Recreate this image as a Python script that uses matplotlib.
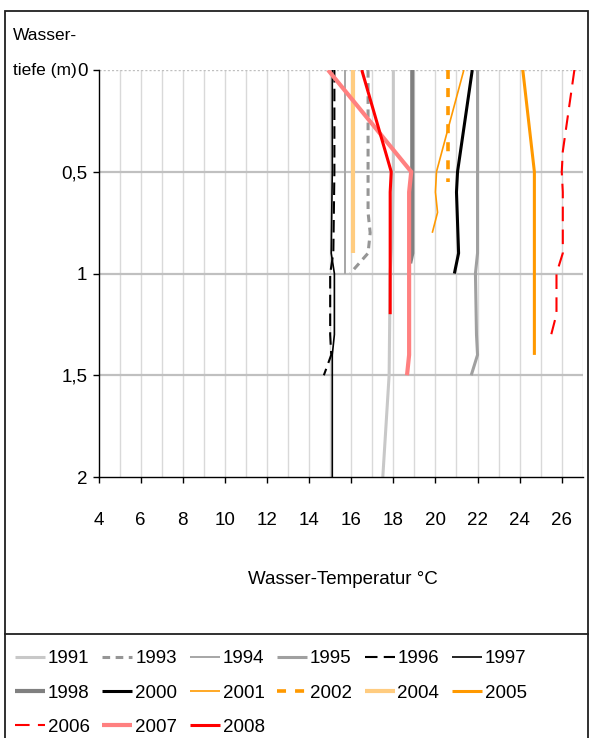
import matplotlib.pyplot as plt
from matplotlib.lines import Line2D
from matplotlib.patches import Rectangle

plt.rcParams['font.family'] = ['Liberation Sans Narrow', 'Liberation Sans', 'DejaVu Sans']

# Temperaturprofile (Tiefe in m, Temperatur in °C)
d_1991 = [0, 0.5, 0.8, 1.0, 1.5, 2.0]
t_1991 = [18.0, 18.0, 17.95, 17.85, 17.8, 17.5]
d_1993 = [0, 0.5, 0.7, 0.8, 0.9, 1.0]
t_1993 = [16.8, 16.8, 16.8, 16.9, 16.8, 15.95]
d_1994 = [0, 0.5, 1.0]
t_1994 = [15.7, 15.7, 15.7]
d_1995 = [0, 0.5, 0.9, 1.0, 1.3, 1.4, 1.5]
t_1995 = [22.0, 22.0, 22.0, 21.9, 21.95, 22.0, 21.7]
d_1996 = [0, 0.5, 0.9, 1.0, 1.3, 1.4, 1.5]
t_1996 = [15.2, 15.2, 15.15, 15.0, 15.0, 15.05, 14.7]
d_1997 = [0, 0.5, 0.9, 1.0, 1.3, 1.4, 1.5, 2.0]
t_1997 = [15.1, 15.1, 15.05, 15.2, 15.2, 15.1, 15.1, 15.1]
d_1998 = [0, 0.5, 0.9, 0.95]
t_1998 = [18.9, 18.9, 18.9, 18.8]
d_2000 = [0, 0.25, 0.5, 0.6, 0.9, 1.0]
t_2000 = [21.75, 21.4, 21.05, 21.0, 21.1, 20.9]
d_2001 = [0, 0.5, 0.6, 0.7, 0.8]
t_2001 = [21.35, 20.05, 20.0, 20.1, 19.85]
d_2002 = [0, 0.5, 0.55]
t_2002 = [20.6, 20.6, 20.6]
d_2004 = [0, 0.5, 0.9]
t_2004 = [16.1, 16.1, 16.1]
d_2005 = [0, 0.5, 1.0, 1.4]
t_2005 = [24.15, 24.7, 24.7, 24.7]
d_2006 = [0, 0.4, 0.5, 0.6, 0.9, 1.0, 1.2, 1.3]
t_2006 = [26.6, 26.05, 26.0, 26.05, 26.05, 25.75, 25.75, 25.5]
d_2007 = [0, 0.5, 0.6, 1.4, 1.5]
t_2007 = [14.9, 18.85, 18.75, 18.75, 18.65]
d_2008 = [0, 0.5, 0.6, 1.2]
t_2008 = [16.5, 17.9, 17.85, 17.85]

years = ['1991', '1993', '1994', '1995', '1996', '1997', '1998', '2000',
         '2001', '2002', '2004', '2005', '2006', '2007', '2008']
depths = [d_1991, d_1993, d_1994, d_1995, d_1996, d_1997, d_1998, d_2000,
          d_2001, d_2002, d_2004, d_2005, d_2006, d_2007, d_2008]
temps = [t_1991, t_1993, t_1994, t_1995, t_1996, t_1997, t_1998, t_2000,
         t_2001, t_2002, t_2004, t_2005, t_2006, t_2007, t_2008]

# Linienstile: Farbe, Breite, Strichmuster
styles = {
    '1991': dict(color='#C8C8C8', lw=2.2),
    '1993': dict(color='#969696', lw=2.2, dashes=(2.5, 1.8)),
    '1994': dict(color='#A6A6A6', lw=1.4),
    '1995': dict(color='#A0A0A0', lw=2.2),
    '1996': dict(color='black', lw=1.5, dashes=(6, 3)),
    '1997': dict(color='black', lw=1.2),
    '1998': dict(color='#808080', lw=3.0),
    '2000': dict(color='black', lw=2.2),
    '2001': dict(color='#FF9900', lw=1.2),
    '2002': dict(color='#FF9900', lw=2.6, dashes=(2.5, 2.5)),
    '2004': dict(color='#FFCC80', lw=3.0),
    '2005': dict(color='#FF9900', lw=2.2),
    '2006': dict(color='#FF0000', lw=1.5, dashes=(7, 4)),
    '2007': dict(color='#FF8080', lw=3.0),
    '2008': dict(color='#FF0000', lw=2.2),
}

fs = 13.5
W, H = 590, 738
fig = plt.figure(figsize=(W / 100, H / 100), dpi=100)
ax = fig.add_axes([98.6 / W, 1 - 477 / H, (582.8 - 98.6) / W, 407 / H])

# Gitter
for t in range(5, 28):
    ax.axvline(t, color='#D9D9D9', lw=1.0, zorder=0)
for d in [0.5, 1.0, 1.5]:
    ax.axhline(d, color='#C0C0C0', lw=1.6, zorder=0)
ax.axhline(0, color='#BFBFBF', lw=1.0, ls=(0, (1.5, 1.5)), zorder=0)

handles = {}
for y, d, t in zip(years, depths, temps):
    st = styles[y]
    kw = dict(color=st['color'], lw=st['lw'], solid_capstyle='butt',
              dash_capstyle='butt', solid_joinstyle='round')
    line, = ax.plot(t, d, **kw)
    if 'dashes' in st:
        line.set_dashes(st['dashes'])
    handles[y] = line

ax.set_xlim(4, 27)
ax.set_ylim(2, 0)
ax.set_xticks(range(4, 27, 2))
ax.set_yticks([0, 0.5, 1, 1.5, 2])
ax.set_yticklabels(['0', '0,5', '1', '1,5', '2'])
ax.tick_params(axis='x', direction='out', length=4, width=1, pad=21, labelsize=fs)
ax.tick_params(axis='y', direction='out', length=4, width=1, pad=4, labelsize=fs)
for s in ['top', 'right']:
    ax.spines[s].set_visible(False)
ax.spines['left'].set_linewidth(1.0)
ax.spines['bottom'].set_linewidth(1.0)

fig.text(343 / W, 1 - 580 / H, 'Wasser-Temperatur °C', ha='center', va='center', fontsize=fs)
fig.text(13 / W, 1 - 35 / H, 'Wasser-', ha='left', va='center', fontsize=12.5)
fig.text(13 / W, 1 - 70 / H, 'tiefe (m)', ha='left', va='center', fontsize=12.5)

# Rahmen und Trennlinie zur Legende
fig.add_artist(Rectangle((5 / W, -0.01), (588 - 5) / W, 0.01 + 1 - 11 / H,
                         transform=fig.transFigure, fill=False, ec='#202020', lw=1.3))
fig.add_artist(Line2D([5 / W, 588 / W], [1 - 634 / H, 1 - 634 / H],
                      transform=fig.transFigure, color='#202020', lw=1.3))

# Legende zeilenweise (6 Spalten)
order = ['1991', '1998', '2006', '1993', '2000', '2007', '1994', '2001', '2008',
         '1995', '2002', '1996', '2004', '1997', '2005']
fig.legend([handles[y] for y in order], order, ncol=6, loc='upper left',
           bbox_to_anchor=(15 / W, 1 - 650 / H), frameon=False, fontsize=fs,
           handlelength=1.6, handletextpad=0.15, columnspacing=0.67,
           labelspacing=0.92, borderpad=0, borderaxespad=0)

fig.savefig('out.png', dpi=100)
